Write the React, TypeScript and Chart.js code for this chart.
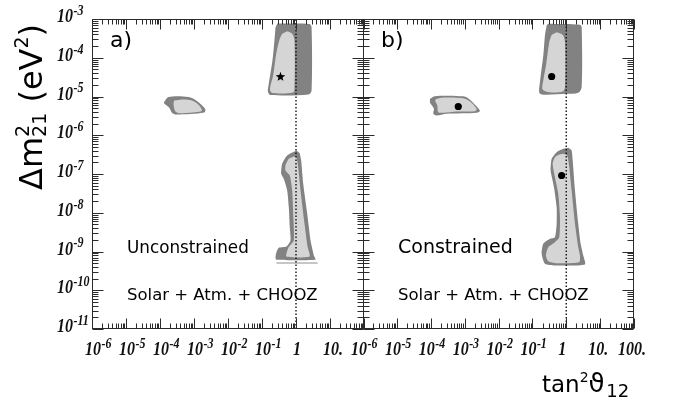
import React, { useEffect, useRef } from 'react';
import { Chart, registerables } from 'chart.js';

Chart.register(...registerables);

// Allowed regions in the (tan²θ12, Δm²21 [eV²]) plane, outlines as [x, y] pairs.
// Panel a) — unconstrained fit
const lmaOuterA = [[0.284, 7.66e-4], [2.5, 7.43e-4], [2.87, 6.04e-4], [2.87, 1.43e-5], [2.34, 1.13e-5], [0.177, 1.09e-5], [0.149, 1.35e-5], [0.155, 1.92e-5], [0.203, 8.49e-5], [0.232, 2.79e-4], [0.249, 6.04e-4]];
const lmaInnerA = [[0.55, 4.84e-4], [0.773, 4.15e-4], [0.903, 2.79e-4], [0.903, 1.61e-5], [0.816, 1.27e-5], [0.203, 1.23e-5], [0.171, 1.52e-5], [0.212, 3.48e-5], [0.266, 1.36e-4], [0.333, 3.08e-4], [0.392, 4.15e-4]];
const smaOuterA = [[1.32e-4, 7.21e-6], [1.77e-4, 9.7e-6], [6.88e-4, 9.7e-6], [1.16e-3, 7.89e-6], [2.14e-3, 4.75e-6], [2.0e-3, 3.86e-6], [2.98e-4, 3.43e-6], [2.28e-4, 3.75e-6], [1.85e-4, 5.2e-6], [1.32e-4, 6.59e-6]];
const smaInnerA = [[2.61e-4, 7.89e-6], [4.9e-4, 8.37e-6], [8.67e-4, 7.89e-6], [1.36e-3, 6.1e-6], [1.71e-3, 4.36e-6], [1.42e-3, 4.03e-6], [3.92e-4, 3.7e-6], [2.79e-4, 4.18e-6], [2.48e-4, 6.48e-6]];
const lowOuterA = [[1.035, 4.04e-7], [0.55, 3.0e-7], [0.392, 1.83e-7], [0.366, 1.01e-7], [0.437, 7.52e-8], [0.55, 3.75e-8], [0.614, 1.39e-8], [0.656, 4.24e-9], [0.689, 1.92e-9], [0.525, 1.35e-9], [0.311, 1.25e-9], [0.266, 9.59e-10], [0.249, 7.13e-10], [0.266, 6.1e-10], [3.76, 6.1e-10], [3.35, 7.88e-10], [2.68, 1.92e-9], [2.14, 9.39e-9], [1.63, 5.58e-8], [1.42, 2.23e-7], [1.29, 3.44e-7]];
const lowInnerA = [[0.861, 2.83e-7], [0.614, 2.47e-7], [0.49, 1.66e-7], [0.49, 1.23e-7], [0.656, 9.14e-8], [0.773, 3.75e-8], [0.827, 9.39e-9], [0.861, 1.92e-9], [0.601, 1.27e-9], [0.525, 7.43e-10], [2.5, 7.43e-10], [2.18, 1.35e-9], [1.78, 5.19e-9], [1.36, 3.75e-8], [1.13, 1.83e-7], [1.035, 2.72e-7]];
const lowFringeA = [[0.266, 5.3e-10], [4.31, 5.3e-10], [4.31, 4.8e-10], [0.266, 4.8e-10]];
const bestFitA = [[0.349, 3.28e-5]];

// Panel b) — constrained fit
const lmaOuterB = [[0.294, 7.52e-4], [2.54, 7.08e-4], [2.85, 6.14e-4], [2.85, 1.74e-5], [2.26, 1.25e-5], [1.03, 1.17e-5], [0.21, 1.11e-5], [0.16, 1.25e-5], [0.167, 2.34e-5], [0.21, 1.14e-4], [0.235, 3.75e-4], [0.264, 6.79e-4]];
const lmaInnerB = [[0.521, 4.56e-4], [0.783, 3.91e-4], [0.916, 2.52e-4], [0.916, 1.74e-5], [0.783, 1.35e-5], [0.33, 1.29e-5], [0.201, 1.52e-5], [0.21, 2.59e-5], [0.252, 6.31e-5], [0.315, 2.52e-4], [0.371, 3.91e-4]];
const smaOuterB = [[9.47e-5, 8.73e-6], [1.33e-4, 1.02e-5], [7.28e-4, 1.02e-5], [1.15e-3, 9.6e-6], [2.83e-3, 4.36e-6], [2.26e-3, 3.8e-6], [2.94e-4, 3.58e-6], [1.49e-4, 3.24e-6], [1.19e-4, 3.58e-6], [1.24e-4, 4.82e-6], [9.47e-5, 6.87e-6]];
const smaInnerB = [[1.49e-4, 8.73e-6], [2.34e-4, 9.42e-6], [9.1e-4, 9.04e-6], [1.44e-3, 7.43e-6], [2.26e-3, 4.82e-6], [2.02e-3, 4.18e-6], [5.82e-4, 4.1e-6], [2.34e-4, 3.8e-6], [1.66e-4, 3.94e-6], [1.56e-4, 5.86e-6], [1.33e-4, 7.89e-6]];
const lowOuterB = [[1.15, 4.74e-7], [1.44, 4.04e-7], [1.55, 2.23e-7], [1.81, 3.75e-8], [2.26, 5.19e-9], [2.66, 1.58e-9], [3.18, 7.88e-10], [3.56, 4.62e-10], [0.464, 4.36e-10], [0.235, 4.82e-10], [0.188, 8.73e-10], [0.21, 1.58e-9], [0.33, 2.13e-9], [0.464, 2.34e-9], [0.521, 5.19e-9], [0.521, 1.39e-8], [0.434, 4.56e-8], [0.346, 1.23e-7], [0.371, 2.47e-7], [0.521, 3.66e-7], [0.815, 4.47e-7]];
const lowInnerB = [[0.815, 3.32e-7], [1.07, 3.0e-7], [1.23, 1.5e-7], [1.44, 3.75e-8], [1.81, 5.19e-9], [2.26, 1.29e-9], [2.54, 7.88e-10], [2.42, 5.3e-10], [0.521, 4.99e-10], [0.294, 5.62e-10], [0.252, 7.88e-10], [0.294, 1.29e-9], [0.464, 1.74e-9], [0.621, 2.34e-9], [0.652, 7.67e-9], [0.581, 3.08e-8], [0.464, 8.26e-8], [0.397, 1.83e-7], [0.464, 2.72e-7], [0.621, 3.18e-7]];
const bestFitB = [[0.371, 3.28e-5], [6.49e-4, 5.52e-6], [0.731, 9.14e-8]];

// Maximal mixing reference line
const maxMixing = [[1, 1e-11], [1, 1e-3]];

// Axis ranges and tick labels
const xRange = [1e-6, 100];
const yRange = [1e-11, 1e-3];
const xTickValues = [1e-6, 1e-5, 1e-4, 1e-3, 1e-2, 1e-1, 1, 10, 100];
const xTickLabelsA = ['10^-6', '10^-5', '10^-4', '10^-3', '10^-2', '10^-1', '1', '10.', ''];
const xTickLabelsB = ['10^-6', '10^-5', '10^-4', '10^-3', '10^-2', '10^-1', '1', '10.', '100.'];
const yTickValues = [1e-3, 1e-4, 1e-5, 1e-6, 1e-7, 1e-8, 1e-9, 1e-10, 1e-11];
const yTickLabels = ['10^-3', '10^-4', '10^-5', '10^-6', '10^-7', '10^-8', '10^-9', '10^-10', '10^-11'];

const DARK = '#828282';
const LIGHT = '#d5d5d5';
const SANS = '"DejaVu Sans", "Liberation Sans", sans-serif';
const SERIF = '"Liberation Serif", "DejaVu Serif", serif';

const toPts = (rows: number[][]) => rows.map(([x, y]) => ({ x, y }));

function region(rows: number[][], color: string, tension = 0.3) {
  return {
    data: toPts(rows),
    backgroundColor: color,
    borderColor: 'rgba(0,0,0,0)',
    borderWidth: 0,
    pointRadius: 0,
    pointHoverRadius: 0,
    fill: 'shape',
    tension,
  };
}

function starImage(): HTMLCanvasElement {
  const c = document.createElement('canvas');
  c.width = 11;
  c.height = 11;
  const g = c.getContext('2d')!;
  g.fillStyle = '#000';
  g.beginPath();
  for (let i = 0; i < 10; i++) {
    const r = i % 2 === 0 ? 5 : 2.1;
    const a = -Math.PI / 2 + (i * Math.PI) / 5;
    const px = 5.5 + r * Math.cos(a);
    const py = 5.8 + r * Math.sin(a);
    if (i === 0) g.moveTo(px, py);
    else g.lineTo(px, py);
  }
  g.closePath();
  g.fill();
  return c;
}

type Run = { text: string; font: string; dy?: number; stack?: boolean; gap?: number };

function drawRuns(ctx: CanvasRenderingContext2D, runs: Run[]) {
  let cx = 0;
  for (const r of runs) {
    ctx.font = r.font;
    ctx.fillText(r.text, cx, r.dy || 0);
    if (!r.stack) cx += ctx.measureText(r.text).width + (r.gap || 0);
  }
}

function splitLabel(s: string) {
  const i = s.indexOf('^');
  if (i >= 0) return { base: s.slice(0, i), sup: s.slice(i + 1), tail: '' };
  if (s.endsWith('.')) return { base: s.slice(0, -1), sup: '', tail: '.' };
  return { base: s, sup: '', tail: '' };
}

const TICK_FONT = `italic bold 16px ${SERIF}`;
const TICK_SUP_FONT = `italic bold 12px ${SERIF}`;
const TICK_STRETCH = 1.2;

function drawTickLabel(ctx: CanvasRenderingContext2D, label: string, x: number, baseline: number, anchor: 'center' | 'left') {
  const { base, sup, tail } = splitLabel(label);
  ctx.font = TICK_FONT;
  const w = ctx.measureText(base).width;
  const x0 = anchor === 'center' ? x - w / 2 : x;
  ctx.save();
  ctx.translate(x0, baseline);
  ctx.scale(1, TICK_STRETCH);
  ctx.fillText(base, 0, 0);
  if (sup) {
    ctx.font = TICK_SUP_FONT;
    ctx.fillText(sup, w + 0.5, -6);
  }
  if (tail) {
    ctx.font = TICK_FONT;
    ctx.fillText(tail, w, 0);
  }
  ctx.restore();
}

function logTicks(min: number, max: number) {
  const out: { v: number; major: boolean }[] = [];
  const lo = Math.round(Math.log10(min));
  const hi = Math.round(Math.log10(max));
  for (let e = lo; e <= hi; e++) {
    const d = Math.pow(10, e);
    out.push({ v: d, major: true });
    if (e < hi) for (let m = 2; m <= 9; m++) out.push({ v: m * d, major: false });
  }
  return out;
}

type PanelOpts = {
  letter: string;
  caption: string;
  captionSize: number;
  source: string;
  xLabels: string[];
  xLabelShift: number;
  yAxisLabels: boolean;
  xTitle: boolean;
};

function panelPlugin(o: PanelOpts) {
  return {
    id: 'panelDecor',
    afterDatasetsDraw(chart: any) {
      const { ctx, chartArea: a, scales } = chart;
      const xs = scales.x;
      const ys = scales.y;
      const L = Math.round(a.left) + 0.5;
      const R = Math.round(a.right) - 0.5;
      const T = Math.round(a.top) + 0.5;
      const B = Math.round(a.bottom) - 0.5;

      ctx.save();
      // frame and inward ticks on all four sides
      ctx.strokeStyle = '#2b2b2b';
      ctx.lineWidth = 1;
      ctx.strokeRect(L, T, R - L, B - T);
      ctx.beginPath();
      for (const t of logTicks(xRange[0], xRange[1])) {
        const px = Math.round(xs.getPixelForValue(t.v)) + 0.5;
        const len = t.major ? 10 : 5;
        ctx.moveTo(px, B);
        ctx.lineTo(px, B - len);
        ctx.moveTo(px, T);
        ctx.lineTo(px, T + len);
      }
      for (const t of logTicks(yRange[0], yRange[1])) {
        const py = Math.round(ys.getPixelForValue(t.v)) + 0.5;
        const len = t.major ? 11 : 6;
        ctx.moveTo(L, py);
        ctx.lineTo(L + len, py);
        ctx.moveTo(R, py);
        ctx.lineTo(R - len, py);
      }
      ctx.stroke();

      // tick labels
      ctx.fillStyle = '#111';
      ctx.textAlign = 'left';
      ctx.textBaseline = 'alphabetic';
      xTickValues.forEach((v, i) => {
        const lab = o.xLabels[i];
        if (!lab) return;
        drawTickLabel(ctx, lab, xs.getPixelForValue(v) + o.xLabelShift, a.bottom + 26, 'center');
      });
      if (o.yAxisLabels) {
        yTickValues.forEach((v, i) => {
          drawTickLabel(ctx, yTickLabels[i], 57, ys.getPixelForValue(v) + 3, 'left');
        });
      }

      // panel annotations
      ctx.fillStyle = '#000';
      ctx.font = `22px ${SANS}`;
      ctx.fillText(o.letter, a.left + 18, a.top + 28);
      ctx.font = `${o.captionSize}px ${SANS}`;
      ctx.fillText(o.caption, a.left + 35, a.top + 234);
      ctx.font = `16.5px ${SANS}`;
      ctx.fillText(o.source, a.left + 35, a.top + 280.5);

      // axis titles
      if (o.yAxisLabels) {
        ctx.save();
        ctx.translate(42, 190);
        ctx.rotate(-Math.PI / 2);
        drawRuns(ctx, [
          { text: 'Δm', font: `32px ${SANS}` },
          { text: '2', font: `19px ${SANS}`, dy: -13, stack: true },
          { text: '21', font: `19px ${SANS}`, dy: 4 },
          { text: ' (eV', font: `32px ${SANS}` },
          { text: '2', font: `19px ${SANS}`, dy: -14 },
          { text: ')', font: `32px ${SANS}` },
        ]);
        ctx.restore();
      }
      if (o.xTitle) {
        ctx.save();
        ctx.translate(a.right - 92, 392);
        drawRuns(ctx, [
          { text: 'tan', font: `23px ${SANS}` },
          { text: '2', font: `14px ${SANS}`, dy: -10 },
          { text: 'ϑ', font: `26px ${SANS}`, gap: 1.5 },
          { text: '12', font: `18px ${SANS}`, dy: 5 },
        ]);
        ctx.restore();
      }
      ctx.restore();
    },
  };
}

function buildConfig(datasets: any[], padding: any, o: PanelOpts): any {
  return {
    type: 'line',
    data: { datasets },
    options: {
      responsive: false,
      animation: false,
      devicePixelRatio: 1,
      events: [],
      layout: { padding, autoPadding: false },
      plugins: { legend: { display: false }, tooltip: { enabled: false } },
      scales: {
        x: { type: 'logarithmic', min: xRange[0], max: xRange[1], display: false },
        y: { type: 'logarithmic', min: yRange[0], max: yRange[1], display: false },
      },
    },
    plugins: [panelPlugin(o)],
  };
}

const dottedLine = () => ({
  data: toPts(maxMixing),
  borderColor: '#111',
  borderWidth: 1.4,
  borderDash: [1.5, 2],
  pointRadius: 0,
  fill: false,
  tension: 0,
});

export default function App() {
  const refA = useRef<HTMLCanvasElement>(null);
  const refB = useRef<HTMLCanvasElement>(null);

  useEffect(() => {
    const star = starImage();
    const chartA = new Chart(
      refA.current!,
      buildConfig(
        [
          { data: toPts(bestFitA), showLine: false, pointStyle: star, pointRadius: 5, fill: false },
          dottedLine(),
          region(lmaInnerA, LIGHT),
          region(smaInnerA, LIGHT),
          region(lowInnerA, LIGHT, 0.2),
          region(lowFringeA, '#b4b4b4', 0),
          region(lmaOuterA, DARK),
          region(smaOuterA, DARK),
          region(lowOuterA, DARK, 0.2),
        ],
        { left: 92, right: 1, top: 19, bottom: 76 },
        {
          letter: 'a)',
          caption: 'Unconstrained',
          captionSize: 16.8,
          source: 'Solar + Atm. + CHOOZ',
          xLabels: xTickLabelsA,
          xLabelShift: 1,
          yAxisLabels: true,
          xTitle: false,
        }
      )
    );
    const chartB = new Chart(
      refB.current!,
      buildConfig(
        [
          { data: toPts(bestFitB), showLine: false, pointStyle: 'circle', pointRadius: 3.6, backgroundColor: '#000', borderWidth: 0, fill: false },
          dottedLine(),
          region(lmaInnerB, LIGHT),
          region(smaInnerB, LIGHT),
          region(lowInnerB, LIGHT, 0.2),
          region(lmaOuterB, DARK),
          region(smaOuterB, DARK),
          region(lowOuterB, DARK, 0.2),
        ],
        { left: 23, right: 47, top: 19, bottom: 76 },
        {
          letter: 'b)',
          caption: 'Constrained',
          captionSize: 19,
          source: 'Solar + Atm. + CHOOZ',
          xLabels: xTickLabelsB,
          xLabelShift: -4,
          yAxisLabels: false,
          xTitle: true,
        }
      )
    );
    return () => {
      chartA.destroy();
      chartB.destroy();
    };
  }, []);

  return (
    <div style={{ position: 'fixed', left: 0, top: 0, width: 681, height: 405, background: '#fff', overflow: 'hidden' }}>
      <canvas ref={refA} width={365} height={405} style={{ position: 'absolute', left: 0, top: 0 }} />
      <canvas ref={refB} width={341} height={405} style={{ position: 'absolute', left: 340, top: 0 }} />
    </div>
  );
}
